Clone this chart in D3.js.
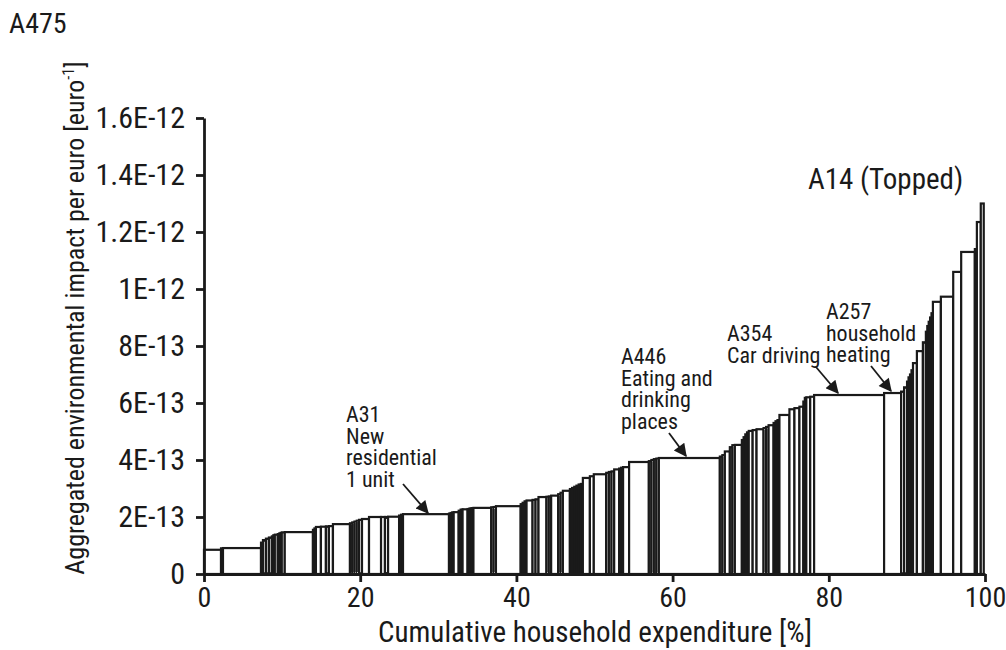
<!DOCTYPE html>
<html>
<head>
<meta charset="utf-8">
<script src="https://cdn.jsdelivr.net/npm/d3@7"></script>
<style>
  body { margin: 0; background: #fff; }
  svg { display: block; }
  text { font-family: "Liberation Sans Narrow", "Arial Narrow", "Roboto Condensed", sans-serif; fill: #1a1a1a; }
</style>
</head>
<body>
<svg id="chart" width="1006" height="650"></svg>
<script>
// Widths: share of cumulative household expenditure [%], sorted by impact
const widths = [
  2.18, 0.25, 4.87, 0.25, 0.38, 0.38, 0.38, 0.19, 0.19, 0.38, 0.17, 0.17, 0.17, 0.38, 3.61,
  0.19, 0.19, 0.64, 0.64, 0.38, 0.52, 2.18, 0.29, 0.29, 0.29, 0.29, 0.38, 0.9, 1.54, 0.5, 0.4, 1.41, 0.25, 0.25, 5.89,
  0.2, 0.2, 0.2, 0.64, 0.25, 0.25, 0.64, 0.25, 0.25, 0.25, 2.28, 0.3, 0.3, 3.17, 0.25, 0.25, 0.25, 0.77, 0.38, 0.38, 1.02, 0.3, 0.3, 0.9, 0.3, 0.3, 0.9, 0.28, 0.28, 0.28, 0.28, 0.28, 0.26,
  0.9, 0.5, 1.59, 0.34, 0.34, 0.34, 0.64, 0.25, 0.25, 0.77, 2.53, 0.32, 0.32, 0.32, 0.32, 7.81,
  0.32, 0.32, 0.64, 0.32, 0.32, 0.9, 0.22, 0.22, 0.22, 0.22, 0.5, 0.5, 0.9, 0.32, 0.32, 0.64, 0.25, 0.25, 0.25, 1.28, 0.64, 0.64, 0.5, 0.19, 0.19, 0.5, 0.5, 8.96,
  2.18, 0.38, 0.38, 0.19, 0.19, 0.19, 0.19, 0.5, 0.77, 0.38, 0.18, 0.18, 0.18, 0.18, 0.18, 1.02, 1.58, 1.02, 1.75, 0.26, 0.5, 0.38
];
// Aggregated impact per euro, in units of 1E-13 euro^-1
const values = [
  0.85, 0.9, 0.91, 1.1, 1.19, 1.24, 1.28, 1.32, 1.36, 1.38, 1.4, 1.42, 1.44, 1.46, 1.47,
  1.55, 1.6, 1.65, 1.66, 1.67, 1.68, 1.75, 1.78, 1.81, 1.84, 1.87, 1.9, 1.93, 2.0, 2.0, 2.0, 2.01, 2.05, 2.08, 2.1,
  2.12, 2.14, 2.16, 2.17, 2.22, 2.26, 2.27, 2.28, 2.3, 2.31, 2.32, 2.34, 2.35, 2.38, 2.45, 2.5, 2.55, 2.58, 2.6, 2.62, 2.7, 2.71, 2.72, 2.75, 2.8, 2.85, 2.92, 2.98, 3.02, 3.06, 3.1, 3.14, 3.16,
  3.37, 3.43, 3.5, 3.55, 3.58, 3.6, 3.67, 3.7, 3.73, 3.75, 3.93, 3.96, 4.0, 4.03, 4.05, 4.07,
  4.12, 4.17, 4.3, 4.45, 4.52, 4.53, 4.7, 4.8, 4.9, 4.97, 5.02, 5.05, 5.08, 5.12, 5.16, 5.22, 5.3, 5.36, 5.4, 5.58, 5.78, 5.82, 5.87, 6.05, 6.18, 6.2, 6.22, 6.28,
  6.35, 6.4, 6.55, 6.75, 6.9, 7.0, 7.15, 7.4, 7.82, 8.13, 8.5, 8.7, 8.85, 9.0, 9.15, 9.55, 9.73, 10.6, 11.3, 11.4, 12.35, 13.0
];
const yTickValues = [0, 2, 4, 6, 8, 10, 12, 14, 16];
const yTickLabels = ["0", "2E-13", "4E-13", "6E-13", "8E-13", "1E-12", "1.2E-12", "1.4E-12", "1.6E-12"];
const xTickValues = [0, 20, 40, 60, 80, 100];
const xTickLabels = ["0", "20", "40", "60", "80", "100"];

const annotations = [
  { lines: ["A31", "New", "residential", "1 unit"], tx: 346, ty: 422, from: [403, 484], to: [428, 513] },
  { lines: ["A446", "Eating and", "drinking", "places"], tx: 621, ty: 364, from: [669, 433], to: [686, 456] },
  { lines: ["A354", "Car driving"], tx: 727, ty: 341, from: [816, 367], to: [838, 393] },
  { lines: ["A257", "household", "heating"], tx: 826, ty: 319, from: [871, 366], to: [891, 391] }
];

const svg = d3.select("#chart");
const x = d3.scaleLinear().domain([0, 100]).range([204, 985]);
const y = d3.scaleLinear().domain([0, 16]).range([574, 118]);

const starts = [0, ...d3.cumsum(widths)].slice(0, widths.length);
const bars = widths.map((w, i) => ({ x0: starts[i], w, v: values[i] }));

svg.append("g").selectAll("rect").data(bars).join("rect")
  .attr("x", d => x(d.x0))
  .attr("width", d => x(d.x0 + d.w) - x(d.x0))
  .attr("y", d => y(d.v))
  .attr("height", d => y(0) - y(d.v))
  .attr("fill", "#fff")
  .attr("stroke", "#1a1a1a")
  .attr("stroke-width", 2.2);

const yAxis = svg.append("g").attr("transform", "translate(204,0)")
  .call(d3.axisLeft(y).tickValues(yTickValues).tickFormat((d, i) => yTickLabels[i]).tickSize(8).tickSizeOuter(0).tickPadding(11));
const xAxis = svg.append("g").attr("transform", "translate(0,574)")
  .call(d3.axisBottom(x).tickValues(xTickValues).tickFormat((d, i) => xTickLabels[i]).tickSize(8).tickSizeOuter(0).tickPadding(5));
[yAxis, xAxis].forEach(g => {
  g.select(".domain").attr("stroke", "#1a1a1a").attr("stroke-width", 2.8);
  g.selectAll(".tick line").attr("stroke", "#1a1a1a").attr("stroke-width", 2.8);
  g.selectAll(".tick text").attr("font-family", null).attr("fill", "#1a1a1a");
});
yAxis.selectAll(".tick text").attr("font-size", 30);
xAxis.selectAll(".tick text").attr("font-size", 28);

// axis titles
svg.append("text").attr("x", 595).attr("y", 642).attr("text-anchor", "middle").attr("font-size", 29)
  .text("Cumulative household expenditure [%]");
const yt = svg.append("text").attr("transform", "translate(84,318) rotate(-90)").attr("text-anchor", "middle").attr("font-size", 26);
yt.append("tspan").text("Aggregated environmental impact per euro [euro");
yt.append("tspan").attr("font-size", 16).attr("dy", -10).text("-1");
yt.append("tspan").attr("dy", 10).text("]");

svg.append("text").attr("x", 9).attr("y", 33).attr("font-size", 28).text("A475");
svg.append("text").attr("x", 808).attr("y", 189).attr("font-size", 29).text("A14 (Topped)");

// annotations
svg.append("defs").append("marker").attr("id", "ah").attr("viewBox", "0 0 10 10")
  .attr("refX", 9).attr("refY", 5).attr("markerWidth", 15).attr("markerHeight", 13)
  .attr("markerUnits", "userSpaceOnUse").attr("orient", "auto")
  .append("path").attr("d", "M0,0 L10,5 L0,10 Z").attr("fill", "#1a1a1a");

annotations.forEach(a => {
  const t = svg.append("text").attr("x", a.tx).attr("y", a.ty).attr("font-size", 22);
  a.lines.forEach((l, i) => t.append("tspan").attr("x", a.tx).attr("dy", i === 0 ? 0 : 21.5).text(l));
  svg.append("line").attr("x1", a.from[0]).attr("y1", a.from[1]).attr("x2", a.to[0]).attr("y2", a.to[1])
    .attr("stroke", "#1a1a1a").attr("stroke-width", 1.8).attr("marker-end", "url(#ah)");
});
</script>
</body>
</html>
